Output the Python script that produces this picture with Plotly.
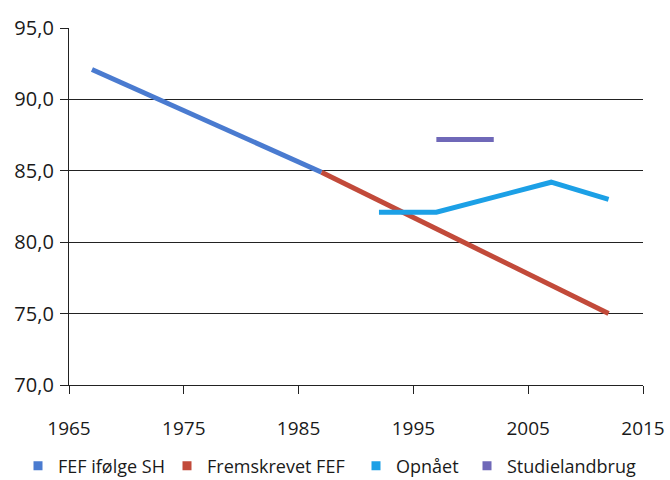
import plotly.graph_objects as go

# Series data (year, value)
fef_years = [1967, 1987]
fef_values = [92.1, 84.9]

fremskrevet_years = [1987, 2012]
fremskrevet_values = [84.9, 75.0]

opnaaet_years = [1992, 1997, 2007, 2012]
opnaaet_values = [82.1, 82.1, 84.2, 83.0]

studie_years = [1997, 2002]
studie_values = [87.2, 87.2]

series_names = ["FEF ifølge SH", "Fremskrevet FEF", "Opnået", "Studielandbrug"]
series_colors = ["#4a7bd0", "#c24a3a", "#1ca0e6", "#6f68b8"]

x_ticks = [1965, 1975, 1985, 1995, 2005, 2015]
y_ticks = [70, 75, 80, 85, 90, 95]
y_tick_labels = ["70,0", "75,0", "80,0", "85,0", "90,0", "95,0"]

FONT = "Open Sans"
TEXT = "#1a1a1a"

fig = go.Figure()

line_data = [
    (fef_years, fef_values),
    (fremskrevet_years, fremskrevet_values),
    (opnaaet_years, opnaaet_values),
    (studie_years, studie_values),
]
for (xs, ys), color in zip(line_data, series_colors):
    fig.add_trace(go.Scatter(
        x=xs, y=ys, mode="lines",
        line=dict(color=color, width=5),
        showlegend=False, hoverinfo="skip",
    ))

# Square-swatch legend entries, each in its own legend box
legend_ids = ["legend", "legend2", "legend3", "legend4"]
for name, color, lid in zip(series_names, series_colors, legend_ids):
    fig.add_trace(go.Scatter(
        x=[None], y=[None], mode="markers", name=name,
        marker=dict(symbol="square", size=9, color=color),
        legend=lid,
    ))

legend_x_px = [18, 167, 356, 467]
legend_common = dict(
    orientation="h", xref="container", yref="container",
    xanchor="left", yanchor="middle", y=1 - 466 / 480,
    font=dict(family=FONT, size=18, color=TEXT),
    bgcolor="rgba(0,0,0,0)", borderwidth=0,
    itemwidth=30, tracegroupgap=0,
)
legend_layout = {}
for lid, px in zip(legend_ids, legend_x_px):
    legend_layout[lid] = dict(legend_common, x=px / 670)

fig.update_layout(
    width=670, height=480,
    margin=dict(l=69, r=27, t=28, b=95, autoexpand=False),
    paper_bgcolor="white", plot_bgcolor="white",
    font=dict(family=FONT, size=19, color=TEXT),
    **legend_layout,
)

fig.update_xaxes(
    range=[1965, 2015], tickvals=x_ticks, ticktext=[str(v) for v in x_ticks],
    showgrid=False, zeroline=False,
    showline=True, linecolor="#222", linewidth=1.3,
    ticks="outside", ticklen=8, tickcolor="#222", tickwidth=1.3,
    ticklabelstandoff=18,
    tickfont=dict(family=FONT, size=19, color=TEXT),
)
fig.update_yaxes(
    range=[70, 95], tickvals=y_ticks, ticktext=y_tick_labels,
    showgrid=True, gridcolor="#222", gridwidth=1.3, zeroline=False,
    showline=True, linecolor="#222", linewidth=1.3,
    ticks="outside", ticklen=8, tickcolor="#222", tickwidth=1.3,
    ticklabelstandoff=2,
    tickfont=dict(family=FONT, size=20, color=TEXT),
)

fig.write_html("out.html")
